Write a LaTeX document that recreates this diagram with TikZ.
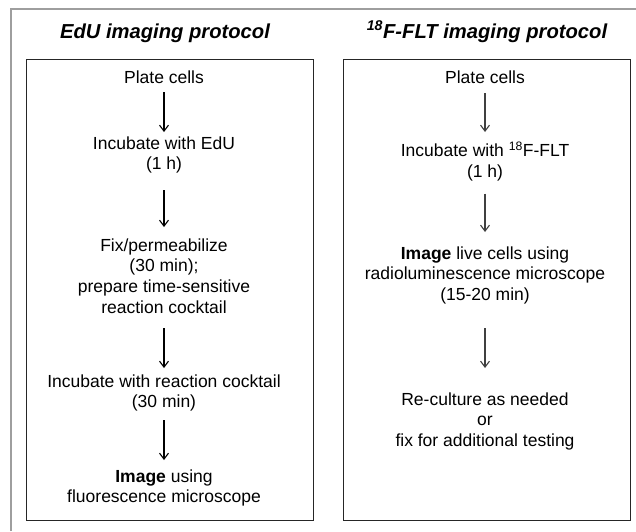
\documentclass[tikz,border=0pt]{standalone}
\usepackage{fontspec}
\setmainfont{Liberation Sans}
\usetikzlibrary{arrows.meta}
\begin{document}
\begin{tikzpicture}[x=1pt,y=-1pt,
  body/.style={font=\fontsize{17.5}{20.8}\selectfont, align=center, inner sep=0pt, anchor=north},
  ttl/.style={font=\fontsize{20.2}{23}\selectfont\bfseries\itshape, inner sep=0pt, anchor=base},
  panel/.style={draw=black!85, line width=1pt, anchor=north west, minimum width=287pt, minimum height=461pt, inner sep=0pt},
  arr/.style={-{Straight Barb[length=6pt,width=9pt]}, line width=1.1pt},
  arrr/.style={arr, draw=black!75},
]
\useasboundingbox (0,0) rectangle (636,531);
\draw[black!38, line width=1.5pt] (11,531) -- (11,9) -- (636,9);

\node[panel] (lbox) at (26,59) {};
\node[panel] (rbox) at (343,59) {};

\node[ttl] (lt) at (165,38) {EdU imaging protocol};
\node[ttl] (rt) at (487,38) {\textsuperscript{18}F-FLT imaging protocol};

% left column
\node[body] (l1) at (164,68.4) {\strut Plate cells\strut};
\node[body] (l2) at (164,134.4) {\strut Incubate with EdU\\\strut (1 h)\strut};
\node[body] (l3) at (164,236.4) {\strut Fix/permeabilize\\\strut (30 min);\\\strut prepare time-sensitive\\\strut reaction cocktail\strut};
\node[body] (l4) at (164,372.4) {\strut Incubate with reaction cocktail\\\strut (30 min)\strut};
\node[body] (l5) at (164,467.4) {\strut \textbf{Image} using\\\strut fluorescence microscope\strut};

\draw[arr, shorten <=2.8pt, shorten >=2.4pt] (l1) -- (l2);
\draw[arr, shorten <=14pt, shorten >=9.4pt] (l2) -- (l3);
\draw[arr, shorten <=8.4pt, shorten >=4.4pt] (l3) -- (l4);
\draw[arr, shorten <=6pt, shorten >=7.4pt] (l4) -- (l5);

% right column
\node[body] (r1) at (485,68.4) {\strut Plate cells\strut};
\node[body] (r2) at (485,141.4) {\strut Incubate with \textsuperscript{18}F-FLT\\\strut (1 h)\strut};
\node[body] (r3) at (485,244.4) {\strut \textbf{Image} live cells using\\\strut radioluminescence microscope\\\strut (15-20 min)\strut};
\node[body] (r4) at (485,390.4) {\strut Re-culture as needed\\\strut or\\\strut fix for additional testing\strut};

\draw[arrr, shorten <=3.8pt, shorten >=9.4pt] (r1) -- (r2);
\draw[arrr, shorten <=10pt, shorten >=12.4pt] (r2) -- (r3);
\draw[arrr, shorten <=21.2pt, shorten >=22.4pt] (r3) -- (r4);
\end{tikzpicture}
\end{document}
